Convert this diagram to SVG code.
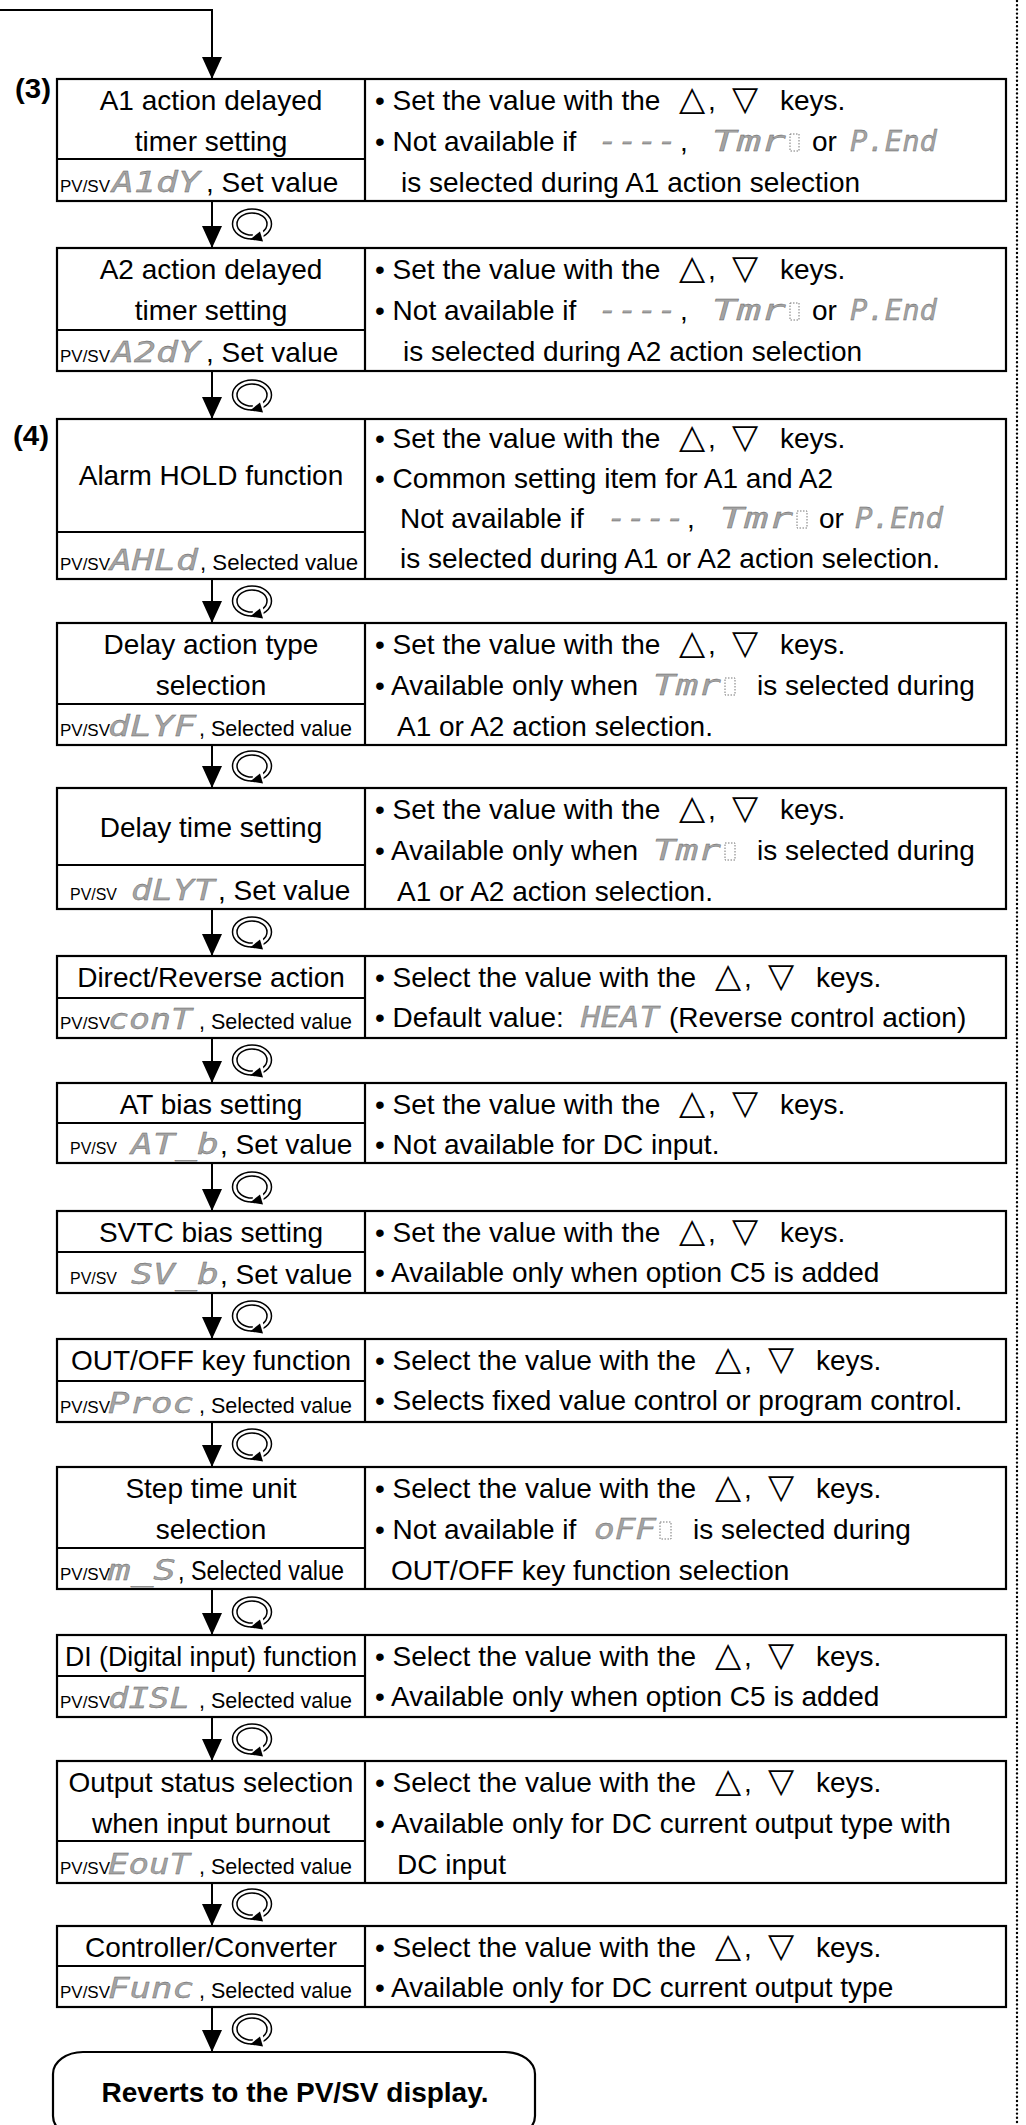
<svg xmlns="http://www.w3.org/2000/svg" xmlns:xlink="http://www.w3.org/1999/xlink" width="1026" height="2125" viewBox="0 0 1026 2125">
<style>
.box{fill:none;stroke:#000;stroke-width:2.2}
.ln{stroke:#000;stroke-width:2.2}
.t{font-family:"Liberation Sans",Arial,sans-serif;font-size:28px;fill:#000}
.c{text-anchor:middle}
.b{font-weight:bold}
.sm{font-size:16px}
.sel{font-size:22px}
.seg{font-family:"DejaVu Sans Mono",monospace;font-style:oblique;font-size:28px;fill:#a3a3a3;stroke:#5a5a5a;stroke-width:0.3}
.sym{font-family:"DejaVu Sans",sans-serif;font-size:34px}
.blank{fill:none;stroke:#777;stroke-width:1;stroke-dasharray:1.5 1.5}
.conn{stroke:#000;stroke-width:2;fill:none}
</style>
<defs>
<marker id="ah" markerUnits="userSpaceOnUse" viewBox="0 0 22 20" markerWidth="22" markerHeight="20" refX="22" refY="10" orient="auto"><path d="M0,0 L22,10 L0,20 z" fill="#000"/></marker>
<g id="rot">
<ellipse rx="19.5" ry="15" fill="#fff" stroke="#000" stroke-width="1.5"/>
<ellipse rx="15" ry="11" fill="#fff" stroke="#000" stroke-width="1.5"/>
<polygon points="1,9 11,6 12,17 0,17" fill="#fff"/>
<polygon points="-2,15.5 8,7.5 11,17.5" fill="#000"/>
</g>
</defs>
<rect width="1026" height="2125" fill="#fff"/>

<line x1="1017" y1="1" x2="1017" y2="2125" stroke="#000" stroke-width="2.4" stroke-linecap="round" stroke-dasharray="0 4.2"/>

<g id="connectors">
<path class="conn" d="M0,10 H212 V79" marker-end="url(#ah)"/>
<line class="conn" x1="212" y1="201" x2="212" y2="248" marker-end="url(#ah)"/>
<line class="conn" x1="212" y1="371" x2="212" y2="419" marker-end="url(#ah)"/>
<line class="conn" x1="212" y1="579" x2="212" y2="623" marker-end="url(#ah)"/>
<line class="conn" x1="212" y1="745" x2="212" y2="788" marker-end="url(#ah)"/>
<line class="conn" x1="212" y1="909" x2="212" y2="956" marker-end="url(#ah)"/>
<line class="conn" x1="212" y1="1038" x2="212" y2="1083" marker-end="url(#ah)"/>
<line class="conn" x1="212" y1="1163" x2="212" y2="1211" marker-end="url(#ah)"/>
<line class="conn" x1="212" y1="1293" x2="212" y2="1339" marker-end="url(#ah)"/>
<line class="conn" x1="212" y1="1422" x2="212" y2="1467" marker-end="url(#ah)"/>
<line class="conn" x1="212" y1="1589" x2="212" y2="1635" marker-end="url(#ah)"/>
<line class="conn" x1="212" y1="1717" x2="212" y2="1761" marker-end="url(#ah)"/>
<line class="conn" x1="212" y1="1883" x2="212" y2="1926" marker-end="url(#ah)"/>
<line class="conn" x1="212" y1="2007" x2="212" y2="2052" marker-end="url(#ah)"/>
<use xlink:href="#rot" x="252" y="224"/>
<use xlink:href="#rot" x="252" y="395"/>
<use xlink:href="#rot" x="252" y="601"/>
<use xlink:href="#rot" x="252" y="766"/>
<use xlink:href="#rot" x="252" y="932"/>
<use xlink:href="#rot" x="252" y="1060"/>
<use xlink:href="#rot" x="252" y="1187"/>
<use xlink:href="#rot" x="252" y="1316"/>
<use xlink:href="#rot" x="252" y="1444"/>
<use xlink:href="#rot" x="252" y="1612"/>
<use xlink:href="#rot" x="252" y="1739"/>
<use xlink:href="#rot" x="252" y="1904"/>
<use xlink:href="#rot" x="252" y="2029"/>
</g>

<g id="n1">
<text class="t b" x="15" y="98" font-size="26" textLength="36" lengthAdjust="spacingAndGlyphs">(3)</text>
<rect class="box" x="57" y="79" width="949" height="122"/>
<line class="ln" x1="365" y1="79" x2="365" y2="201"/>
<line class="ln" x1="57" y1="159" x2="365" y2="159"/>
<text class="t c" x="211" y="110">A1 action delayed</text>
<text class="t c" x="211" y="151">timer setting</text>
<text class="t sm" x="60" y="192" textLength="50" lengthAdjust="spacingAndGlyphs">PV/SV</text>
<text class="seg" x="112" y="192" textLength="88" lengthAdjust="spacingAndGlyphs">A1dY</text>
<text class="t" x="206" y="192">, Set value</text>
<text class="t" y="110"><tspan x="375">• Set the value with the</tspan><tspan class="sym" x="679">△</tspan><tspan x="708">,</tspan><tspan class="sym" x="732">▽</tspan><tspan x="780">keys.</tspan></text>
<text class="t" x="375" y="151">• Not available if</text>
<text class="seg" x="598" y="151" textLength="79" lengthAdjust="spacingAndGlyphs">----</text>
<text class="t" x="680" y="151">,</text>
<text class="seg" x="712" y="151" textLength="74" lengthAdjust="spacingAndGlyphs">Tmr</text>
<rect class="blank" x="790" y="134" width="9" height="17"/>
<text class="t" x="812" y="151">or</text>
<text class="seg" x="850" y="151" textLength="87" lengthAdjust="spacingAndGlyphs">P.End</text>
<text class="t" x="401" y="192">is selected during A1 action selection</text>
</g>

<g id="n2">
<rect class="box" x="57" y="248" width="949" height="123"/>
<line class="ln" x1="365" y1="248" x2="365" y2="371"/>
<line class="ln" x1="57" y1="330" x2="365" y2="330"/>
<text class="t c" x="211" y="279">A2 action delayed</text>
<text class="t c" x="211" y="320">timer setting</text>
<text class="t sm" x="60" y="362" textLength="50" lengthAdjust="spacingAndGlyphs">PV/SV</text>
<text class="seg" x="112" y="362" textLength="88" lengthAdjust="spacingAndGlyphs">A2dY</text>
<text class="t" x="206" y="362">, Set value</text>
<text class="t" y="279"><tspan x="375">• Set the value with the</tspan><tspan class="sym" x="679">△</tspan><tspan x="708">,</tspan><tspan class="sym" x="732">▽</tspan><tspan x="780">keys.</tspan></text>
<text class="t" x="375" y="320">• Not available if</text>
<text class="seg" x="598" y="320" textLength="79" lengthAdjust="spacingAndGlyphs">----</text>
<text class="t" x="680" y="320">,</text>
<text class="seg" x="712" y="320" textLength="74" lengthAdjust="spacingAndGlyphs">Tmr</text>
<rect class="blank" x="790" y="303" width="9" height="17"/>
<text class="t" x="812" y="320">or</text>
<text class="seg" x="850" y="320" textLength="87" lengthAdjust="spacingAndGlyphs">P.End</text>
<text class="t" x="403" y="361">is selected during A2 action selection</text>
</g>

<g id="n4">
<text class="t b" x="13" y="445" font-size="26" textLength="36" lengthAdjust="spacingAndGlyphs">(4)</text>
<rect class="box" x="57" y="419" width="949" height="160"/>
<line class="ln" x1="365" y1="419" x2="365" y2="579"/>
<line class="ln" x1="57" y1="532" x2="365" y2="532"/>
<text class="t c" x="211" y="485">Alarm HOLD function</text>
<text class="t sm" x="60" y="570" textLength="50" lengthAdjust="spacingAndGlyphs">PV/SV</text>
<text class="seg" x="110" y="570" textLength="88" lengthAdjust="spacingAndGlyphs">AHLd</text>
<text class="t sel" x="200" y="570" textLength="158" lengthAdjust="spacingAndGlyphs">, Selected value</text>
<text class="t" y="448"><tspan x="375">• Set the value with the</tspan><tspan class="sym" x="679">△</tspan><tspan x="708">,</tspan><tspan class="sym" x="732">▽</tspan><tspan x="780">keys.</tspan></text>
<text class="t" x="375" y="488">• Common setting item for A1 and A2</text>
<text class="t" x="400" y="528">Not available if</text>
<text class="seg" x="607" y="528" textLength="78" lengthAdjust="spacingAndGlyphs">----</text>
<text class="t" x="687" y="528">,</text>
<text class="seg" x="720" y="528" textLength="73" lengthAdjust="spacingAndGlyphs">Tmr</text>
<rect class="blank" x="797" y="511" width="10" height="17"/>
<text class="t" x="819" y="528">or</text>
<text class="seg" x="855" y="528" textLength="88" lengthAdjust="spacingAndGlyphs">P.End</text>
<text class="t" x="400" y="568">is selected during A1 or A2 action selection.</text>
</g>

<g id="n5">
<rect class="box" x="57" y="623" width="949" height="122"/>
<line class="ln" x1="365" y1="623" x2="365" y2="745"/>
<line class="ln" x1="57" y1="704" x2="365" y2="704"/>
<text class="t c" x="211" y="654">Delay action type</text>
<text class="t c" x="211" y="695">selection</text>
<text class="t sm" x="60" y="736" textLength="50" lengthAdjust="spacingAndGlyphs">PV/SV</text>
<text class="seg" x="108" y="736" textLength="88" lengthAdjust="spacingAndGlyphs">dLYF</text>
<text class="t sel" x="199" y="736" textLength="153" lengthAdjust="spacingAndGlyphs">, Selected value</text>
<text class="t" y="654"><tspan x="375">• Set the value with the</tspan><tspan class="sym" x="679">△</tspan><tspan x="708">,</tspan><tspan class="sym" x="732">▽</tspan><tspan x="780">keys.</tspan></text>
<text class="t" x="375" y="695">• Available only when</text>
<text class="seg" x="653" y="695" textLength="68" lengthAdjust="spacingAndGlyphs">Tmr</text>
<rect class="blank" x="725" y="678" width="10" height="17"/>
<text class="t" x="757" y="695">is selected during</text>
<text class="t" x="397" y="736">A1 or A2 action selection.</text>
</g>

<g id="n6">
<rect class="box" x="57" y="788" width="949" height="121"/>
<line class="ln" x1="365" y1="788" x2="365" y2="909"/>
<line class="ln" x1="57" y1="865" x2="365" y2="865"/>
<text class="t c" x="211" y="837">Delay time setting</text>
<text class="t sm" x="70" y="900" textLength="47" lengthAdjust="spacingAndGlyphs">PV/SV</text>
<text class="seg" x="131" y="900" textLength="84" lengthAdjust="spacingAndGlyphs">dLYT</text>
<text class="t" x="218" y="900">, Set value</text>
<text class="t" y="819"><tspan x="375">• Set the value with the</tspan><tspan class="sym" x="679">△</tspan><tspan x="708">,</tspan><tspan class="sym" x="732">▽</tspan><tspan x="780">keys.</tspan></text>
<text class="t" x="375" y="860">• Available only when</text>
<text class="seg" x="653" y="860" textLength="68" lengthAdjust="spacingAndGlyphs">Tmr</text>
<rect class="blank" x="725" y="843" width="10" height="17"/>
<text class="t" x="757" y="860">is selected during</text>
<text class="t" x="397" y="901">A1 or A2 action selection.</text>
</g>

<g id="n7">
<rect class="box" x="57" y="956" width="949" height="82"/>
<line class="ln" x1="365" y1="956" x2="365" y2="1038"/>
<line class="ln" x1="57" y1="998" x2="365" y2="998"/>
<text class="t c" x="211" y="987">Direct/Reverse action</text>
<text class="t sm" x="60" y="1029" textLength="50" lengthAdjust="spacingAndGlyphs">PV/SV</text>
<text class="seg" x="108" y="1029" textLength="84" lengthAdjust="spacingAndGlyphs">conT</text>
<text class="t sel" x="199" y="1029" textLength="153" lengthAdjust="spacingAndGlyphs">, Selected value</text>
<text class="t" y="987"><tspan x="375">• Select the value with the</tspan><tspan class="sym" x="715">△</tspan><tspan x="744">,</tspan><tspan class="sym" x="768">▽</tspan><tspan x="816">keys.</tspan></text>
<text class="t" x="375" y="1027">• Default value:</text>
<text class="seg" x="581" y="1027" textLength="78" lengthAdjust="spacingAndGlyphs">HEAT</text>
<text class="t" x="669" y="1027">(Reverse control action)</text>
</g>

<g id="n8">
<rect class="box" x="57" y="1083" width="949" height="80"/>
<line class="ln" x1="365" y1="1083" x2="365" y2="1163"/>
<line class="ln" x1="57" y1="1123" x2="365" y2="1123"/>
<text class="t c" x="211" y="1114">AT bias setting</text>
<text class="t sm" x="70" y="1154" textLength="47" lengthAdjust="spacingAndGlyphs">PV/SV</text>
<text class="seg" x="131" y="1154" textLength="88" lengthAdjust="spacingAndGlyphs">AT_b</text>
<text class="t" x="220" y="1154">, Set value</text>
<text class="t" y="1114"><tspan x="375">• Set the value with the</tspan><tspan class="sym" x="679">△</tspan><tspan x="708">,</tspan><tspan class="sym" x="732">▽</tspan><tspan x="780">keys.</tspan></text>
<text class="t" x="375" y="1154">• Not available for DC input.</text>
</g>

<g id="n9">
<rect class="box" x="57" y="1211" width="949" height="82"/>
<line class="ln" x1="365" y1="1211" x2="365" y2="1293"/>
<line class="ln" x1="57" y1="1252" x2="365" y2="1252"/>
<text class="t c" x="211" y="1242">SVTC bias setting</text>
<text class="t sm" x="70" y="1284" textLength="47" lengthAdjust="spacingAndGlyphs">PV/SV</text>
<text class="seg" x="131" y="1284" textLength="88" lengthAdjust="spacingAndGlyphs">SV_b</text>
<text class="t" x="220" y="1284">, Set value</text>
<text class="t" y="1242"><tspan x="375">• Set the value with the</tspan><tspan class="sym" x="679">△</tspan><tspan x="708">,</tspan><tspan class="sym" x="732">▽</tspan><tspan x="780">keys.</tspan></text>
<text class="t" x="375" y="1282">• Available only when option C5 is added</text>
</g>

<g id="n10">
<rect class="box" x="57" y="1339" width="949" height="83"/>
<line class="ln" x1="365" y1="1339" x2="365" y2="1422"/>
<line class="ln" x1="57" y1="1381" x2="365" y2="1381"/>
<text class="t c" x="211" y="1370">OUT/OFF key function</text>
<text class="t sm" x="60" y="1413" textLength="50" lengthAdjust="spacingAndGlyphs">PV/SV</text>
<text class="seg" x="108" y="1413" textLength="86" lengthAdjust="spacingAndGlyphs">Proc</text>
<text class="t sel" x="199" y="1413" textLength="153" lengthAdjust="spacingAndGlyphs">, Selected value</text>
<text class="t" y="1370"><tspan x="375">• Select the value with the</tspan><tspan class="sym" x="715">△</tspan><tspan x="744">,</tspan><tspan class="sym" x="768">▽</tspan><tspan x="816">keys.</tspan></text>
<text class="t" x="375" y="1410">• Selects fixed value control or program control.</text>
</g>

<g id="n11">
<rect class="box" x="57" y="1467" width="949" height="122"/>
<line class="ln" x1="365" y1="1467" x2="365" y2="1589"/>
<line class="ln" x1="57" y1="1548" x2="365" y2="1548"/>
<text class="t c" x="211" y="1498">Step time unit</text>
<text class="t c" x="211" y="1539">selection</text>
<text class="t sm" x="60" y="1580" textLength="50" lengthAdjust="spacingAndGlyphs">PV/SV</text>
<text class="seg" x="108" y="1580" textLength="68" lengthAdjust="spacingAndGlyphs">m_S</text>
<text class="t" x="178" y="1580" font-size="24" textLength="166" lengthAdjust="spacingAndGlyphs">, Selected value</text>
<text class="t" y="1498"><tspan x="375">• Select the value with the</tspan><tspan class="sym" x="715">△</tspan><tspan x="744">,</tspan><tspan class="sym" x="768">▽</tspan><tspan x="816">keys.</tspan></text>
<text class="t" x="375" y="1539">• Not available if</text>
<text class="seg" x="594" y="1539" textLength="62" lengthAdjust="spacingAndGlyphs">oFF</text>
<rect class="blank" x="660" y="1522" width="11" height="17"/>
<text class="t" x="693" y="1539">is selected during</text>
<text class="t" x="391" y="1580">OUT/OFF key function selection</text>
</g>

<g id="n12">
<rect class="box" x="57" y="1635" width="949" height="82"/>
<line class="ln" x1="365" y1="1635" x2="365" y2="1717"/>
<line class="ln" x1="57" y1="1676" x2="365" y2="1676"/>
<text class="t c" x="211" y="1666" textLength="292" lengthAdjust="spacingAndGlyphs">DI (Digital input) function</text>
<text class="t sm" x="60" y="1708" textLength="50" lengthAdjust="spacingAndGlyphs">PV/SV</text>
<text class="seg" x="108" y="1708" textLength="82" lengthAdjust="spacingAndGlyphs">dISL</text>
<text class="t sel" x="199" y="1708" textLength="153" lengthAdjust="spacingAndGlyphs">, Selected value</text>
<text class="t" y="1666"><tspan x="375">• Select the value with the</tspan><tspan class="sym" x="715">△</tspan><tspan x="744">,</tspan><tspan class="sym" x="768">▽</tspan><tspan x="816">keys.</tspan></text>
<text class="t" x="375" y="1706">• Available only when option C5 is added</text>
</g>

<g id="n13">
<rect class="box" x="57" y="1761" width="949" height="122"/>
<line class="ln" x1="365" y1="1761" x2="365" y2="1883"/>
<line class="ln" x1="57" y1="1841" x2="365" y2="1841"/>
<text class="t c" x="211" y="1792">Output status selection</text>
<text class="t c" x="211" y="1833">when input burnout</text>
<text class="t sm" x="60" y="1874" textLength="50" lengthAdjust="spacingAndGlyphs">PV/SV</text>
<text class="seg" x="108" y="1874" textLength="82" lengthAdjust="spacingAndGlyphs">EouT</text>
<text class="t sel" x="199" y="1874" textLength="153" lengthAdjust="spacingAndGlyphs">, Selected value</text>
<text class="t" y="1792"><tspan x="375">• Select the value with the</tspan><tspan class="sym" x="715">△</tspan><tspan x="744">,</tspan><tspan class="sym" x="768">▽</tspan><tspan x="816">keys.</tspan></text>
<text class="t" x="375" y="1833">• Available only for DC current output type with</text>
<text class="t" x="397" y="1874">DC input</text>
</g>

<g id="n14">
<rect class="box" x="57" y="1926" width="949" height="81"/>
<line class="ln" x1="365" y1="1926" x2="365" y2="2007"/>
<line class="ln" x1="57" y1="1966" x2="365" y2="1966"/>
<text class="t c" x="211" y="1957">Controller/Converter</text>
<text class="t sm" x="60" y="1998" textLength="50" lengthAdjust="spacingAndGlyphs">PV/SV</text>
<text class="seg" x="108" y="1998" textLength="86" lengthAdjust="spacingAndGlyphs">Func</text>
<text class="t sel" x="199" y="1998" textLength="153" lengthAdjust="spacingAndGlyphs">, Selected value</text>
<text class="t" y="1957"><tspan x="375">• Select the value with the</tspan><tspan class="sym" x="715">△</tspan><tspan x="744">,</tspan><tspan class="sym" x="768">▽</tspan><tspan x="816">keys.</tspan></text>
<text class="t" x="375" y="1997">• Available only for DC current output type</text>
</g>

<g id="end">
<rect class="box" x="53" y="2052" width="482" height="86" rx="30" ry="22"/>
<text class="t b c" x="295" y="2102">Reverts to the PV/SV display.</text>
</g>
</svg>
